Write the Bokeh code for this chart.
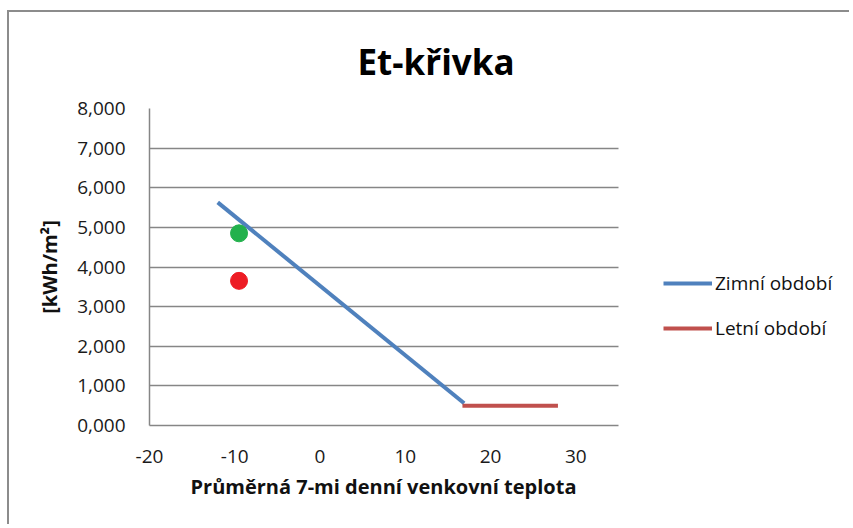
from bokeh.plotting import figure
from bokeh.models import Range1d, FixedTicker, CustomJSTickFormatter, Legend, LegendItem, Title
from bokeh.embed import file_html
from bokeh.resources import INLINE

# data
x_ticks = [-20, -10, 0, 10, 20, 30]
y_ticks = [0, 1, 2, 3, 4, 5, 6, 7, 8]
x_min, x_max = -20, 35
y_min, y_max = 0, 8
winter_x = [-12.0, 16.9]
winter_y = [5.63, 0.56]
summer_x = [16.7, 27.9]
summer_y = [0.5, 0.5]
green_x = [-9.5]
green_y = [4.85]
red_x = [-9.5]
red_y = [3.65]

FONT = "Open Sans"

# layout (pixels)
W, H = 842, 514
BL, BR, BT, BB = 140, 0, 96, 101
PLOT_W = 469  # visible plot area width for x_min..x_max
frame_w = W - BL - BR
x_end = x_min + (x_max - x_min) * frame_w / PLOT_W

p = figure(width=W, height=H, output_backend="svg", toolbar_location=None,
           x_range=Range1d(x_min, x_end), y_range=Range1d(y_min, y_max),
           min_border_left=BL, min_border_right=BR, min_border_top=BT, min_border_bottom=BB)
p.margin = (10, 0, 0, 7)
p.styles = {"border-top": "2px solid #8c8c8c", "border-left": "2px solid #8c8c8c"}
p.outline_line_color = None
p.background_fill_color = "white"
p.border_fill_color = "white"

p.title.text = "Et-křivka"
p.title.text_font = FONT
p.title.text_font_style = "bold"
p.title.text_font_size = "35px"
p.title.text_color = "#000000"
p.title.vertical_align = "top"
p.title.align = "left"
p.title.offset = 208
p.title.standoff = 44

p.xaxis.ticker = FixedTicker(ticks=x_ticks)
p.yaxis.ticker = FixedTicker(ticks=y_ticks)
p.xaxis.bounds = (x_min, x_max)
p.xaxis.formatter = CustomJSTickFormatter(code="return tick.toString();")
p.yaxis.formatter = CustomJSTickFormatter(code="return tick.toFixed(3).replace('.', ',');")
for ax in (p.xaxis, p.yaxis):
    ax.axis_line_color = "#868686"
    ax.axis_line_width = 1.5
    ax.major_tick_line_color = None
    ax.minor_tick_line_color = None
    ax.major_label_text_font = FONT
    ax.major_label_text_font_size = "19px"
    ax.major_label_text_color = "#1a1a1a"
    ax.axis_label_text_font = FONT
    ax.axis_label_text_font_style = "bold"
    ax.axis_label_text_font_size = "20px"
    ax.axis_label_text_color = "#111111"
p.xaxis.major_label_standoff = 18
p.yaxis.major_label_standoff = 18
p.yaxis.axis_label = "[kWh/m²]"
p.yaxis.axis_label_standoff = 11

xlabel = Title(text="Průměrná 7-mi denní venkovní teplota", align="left", offset=41,
               text_font=FONT, text_font_style="bold", text_font_size="20px",
               text_color="#111111", standoff=11)
p.add_layout(xlabel, "below")

p.xgrid.grid_line_color = None
p.ygrid.grid_line_color = "#868686"
p.ygrid.grid_line_width = 1.5
p.ygrid.cross_bounds = (x_min, x_max)

lw = p.line(winter_x, winter_y, line_color="#4f81bd", line_width=4)
ls = p.line(summer_x, summer_y, line_color="#c0504d", line_width=4)
p.scatter(green_x, green_y, size=17, fill_color="#22b14c", line_color="#22b14c")
p.scatter(red_x, red_y, size=17, fill_color="#ed1c24", line_color="#ed1c24")

legend = Legend(items=[LegendItem(label="Zimní období", renderers=[lw]),
                       LegendItem(label="Letní období", renderers=[ls])],
                location=(514, 84), orientation="vertical",
                glyph_width=49, glyph_height=24, label_height=24, spacing=19,
                padding=0, margin=0, label_standoff=3,
                border_line_alpha=0, background_fill_alpha=0,
                label_text_font=FONT, label_text_font_size="19px", label_text_color="#111111")
p.add_layout(legend, "center")

open("out.html", "w").write(file_html(p, INLINE))
